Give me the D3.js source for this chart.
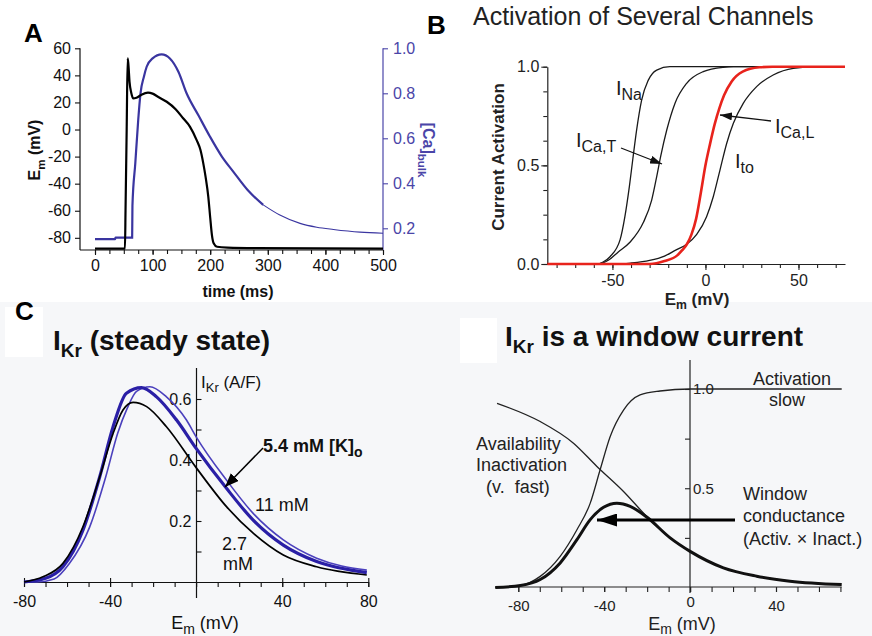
<!DOCTYPE html>
<html><head><meta charset="utf-8">
<script src="https://cdn.jsdelivr.net/npm/d3@7"></script>
<style>
body{margin:0;background:#fff}
svg{display:block}
text{font-family:"Liberation Sans",Arial,Helvetica,sans-serif}
</style>
</head><body>
<svg id="fig" width="872" height="636"></svg>
<script>
// ---------------- Panel A data ----------------
const aEmTime = [0,52,53,55,56.7,58,60,63,66.5,72,80,92,100,110,124.5,140,153,165,176.5,183,188,192,196.7,200,203,206,212,230,280,500];
const aEm     = [-88,-88,-60,0,52.6,48,35,27,23,23.5,25.5,27.2,26.5,24,20.5,15,8.3,2,-7.8,-15,-25,-35,-49.7,-65,-78,-84,-86.6,-87.2,-87.6,-88];
const aCaTime = [0,35,35.5,64.5,65,70,75,79,85,89.7,100,115.7,130,145,159,180,199.7,220,240,265,292,320,356,385,414,460,500];
const aCa     = [0.152,0.152,0.159,0.159,0.3,0.49,0.68,0.8,0.875,0.918,0.955,0.973,0.955,0.895,0.8,0.7,0.607,0.52,0.452,0.37,0.304,0.26,0.222,0.205,0.195,0.183,0.178];
const aEmTicks = [-80,-60,-40,-20,0,20,40,60];
const aCaTicks = [0.2,0.4,0.6,0.8,1.0];
const aTimeTicks = [0,100,200,300,400,500];

// ---------------- Panel B data ----------------
const bNaV  = [-85,-58.5,-55,-51.3,-45.9,-43.3,-40.9,-39.1,-37,-34.3,-30.7,-26.2,-19.1,75];
const bNa   = [0,0,0.01,0.037,0.122,0.24,0.392,0.527,0.679,0.831,0.932,0.983,1,1];
const bCaTV = [-85,-58,-52,-47,-40.6,-33.4,-28.9,-26.2,-24.1,-20.8,-16.4,-10.1,-1.2,9.6,15,75];
const bCaT  = [0,0,0.02,0.06,0.11,0.21,0.324,0.443,0.544,0.679,0.814,0.916,0.975,0.997,1,1];
const bCaLV = [-85,-30,-22,-15,-12.5,-10,-7.5,-5,-2.5,0,2.5,5,7.5,10,14,20,29,36,75];
const bCaL  = [0,0,0.015,0.045,0.07,0.1,0.15,0.23,0.36,0.5,0.61,0.71,0.79,0.855,0.924,0.975,0.997,1,1];
const bItoV = [-85,-48,-40,-30,-22,-16,-10.1,-4.7,0.6,4.2,7.8,11.4,15,20.3,27.5,36.4,47.2,59.8,75];
const bIto  = [0,0,0.005,0.018,0.04,0.07,0.1,0.15,0.24,0.341,0.476,0.611,0.713,0.814,0.899,0.958,0.992,1,1];
const bYTicks = [0,0.5,1.0];
const bXTicks = [-50,0,50];

// ---------------- Panel C data ----------------
const c27V = [-80,-71.2,-61.9,-52.6,-44.8,-38.6,-34,-29.3,-23,-13.8,0,14.1,26.5,40.5,56,79.3];
const c27  = [0,0.017,0.061,0.181,0.345,0.487,0.564,0.589,0.575,0.509,0.375,0.247,0.160,0.0885,0.050,0.023];
const c54V = [-80,-70,-61.9,-52.6,-44.8,-38.6,-32.4,-25.4,-18.4,-9.1,0,14.1,26.5,40.5,56,79.3];
const c54  = [0,0.012,0.05,0.17,0.345,0.509,0.619,0.637,0.607,0.531,0.438,0.307,0.203,0.121,0.067,0.031];
const c11V = [-80,-74,-66,-59,-49.5,-42,-36.5,-32,-27.7,-21.5,-13.8,-4.5,0,14.1,26.5,40.5,56,79.3];
const c11  = [0,0,0.01,0.06,0.18,0.345,0.487,0.57,0.625,0.64,0.607,0.531,0.476,0.334,0.225,0.138,0.078,0.039];
const cXTicks = [-80,-40,40,80];
const cYTicks = [0.2,0.4,0.6];

// ---------------- Panel D data ----------------
const dActV = [-90.7,-79,-69.8,-60.5,-52.7,-46.5,-41.9,-37.2,-31,-23.3,-14,0,70.6];
const dAct  = [0,0.01,0.056,0.157,0.291,0.425,0.593,0.761,0.894,0.97,0.99,1,1];
const dInaV = [-89.9,-69.8,-54.3,-43.4,-31,-20.2,-9.3,0,15.5,31,46.5,70];
const dIna  = [0.928,0.836,0.727,0.61,0.484,0.358,0.25,0.182,0.099,0.057,0.032,0.015];
const dWinV = [-90.7,-79,-69.8,-60.5,-52.7,-46.5,-40.3,-34.1,-27.9,-20.2,-9.3,0,15.5,31,46.5,70.6];
const dWin  = [0,0.01,0.04,0.124,0.241,0.342,0.404,0.425,0.409,0.355,0.25,0.182,0.099,0.057,0.032,0.015];
const dXTicks = [-80,-40,0,40];
const dYTicks = [0.5,1.0];

// ---------------- drawing ----------------
const svg = d3.select("#fig");
const FONT = '"Liberation Sans",Arial,Helvetica,sans-serif';
const zip = (xs, ys) => xs.map((x,i)=>[x, ys[i]]);
const fmtInt = d => String(d);          // plain hyphen minus, as in the figure
const fmt1 = d => d.toFixed(1);

svg.append("rect").attr("width",872).attr("height",636).attr("fill","#fff");
svg.append("rect").attr("x",0).attr("y",302).attr("width",872).attr("height",334).attr("fill","#f6f7f9");
svg.append("rect").attr("x",5).attr("y",307).attr("width",38).attr("height",50).attr("fill","#fff");
svg.append("rect").attr("x",460).attr("y",318).attr("width",37).attr("height",45).attr("fill","#fff");

const defs = svg.append("defs");
function marker(id, w, h, color){
  defs.append("marker").attr("id",id).attr("markerUnits","userSpaceOnUse")
    .attr("viewBox",`0 0 ${w} ${h}`).attr("refX",w).attr("refY",h/2)
    .attr("markerWidth",w).attr("markerHeight",h).attr("orient","auto")
    .append("path").attr("d",`M0,0L${w},${h/2}L0,${h}Z`).attr("fill",color);
}
marker("arrB",12,8,"#111");
marker("arrC",14,11,"#000");
marker("arrD",20,13,"#000");

// rich text with subscripts: parts = [[text, sub?], ...]
function rich(parent, x, y, parts, o){
  const size = o.size;
  const t = parent.append("text").attr("x",x).attr("y",y)
    .attr("font-size",size).attr("font-weight",o.weight||"normal")
    .attr("fill",o.fill||"#111").attr("text-anchor",o.anchor||"start");
  if (o.rotate) t.attr("transform",`rotate(${o.rotate},${x},${y})`);
  let shift = 0;
  const subShift = o.subShift!==undefined ? o.subShift : size*0.3;
  parts.forEach(p=>{
    const s = t.append("tspan").text(p[0]);
    const target = p[1] ? subShift : 0;
    if (target !== shift) { s.attr("dy", target - shift); shift = target; }
    if (p[1]) s.attr("font-size", o.subSize || size*0.72);
  });
  return t;
}
function styleAxis(g, size, color){
  g.attr("font-family",FONT).attr("font-size",size);
  g.selectAll("path.domain").attr("stroke",color||"#111").attr("stroke-width",1.2);
  g.selectAll(".tick line").attr("stroke",color||"#111").attr("stroke-width",1.1);
  g.selectAll(".tick text").attr("fill",color||"#111");
}

// =============== Panel A ===============
const xA = d3.scaleLinear().domain([0,500]).range([95,383]);
const yA = d3.scaleLinear().domain([-89,60]).range([250,48.3]);
const yCa = d3.scaleLinear().domain([0.2,1.0]).range([228.3,48.3]);
const gA = svg.append("g");
const gAxm = gA.append("g").attr("transform","translate(0,250)")
  .call(d3.axisBottom(xA).tickValues(d3.range(0,501,25)).tickSize(4).tickFormat(""));
styleAxis(gAxm,16);
gAxm.select("path.domain").remove();
const gAx = gA.append("g").attr("transform","translate(0,250)")
  .call(d3.axisBottom(xA).tickValues(aTimeTicks).tickSize(5).tickPadding(5).tickFormat(fmtInt).tickSizeOuter(0));
styleAxis(gAx,16);
gAx.select("path.domain").attr("d","M80,0H383");
const gAy = gA.append("g").attr("transform","translate(80,0)")
  .call(d3.axisLeft(yA).tickValues(aEmTicks).tickSize(5).tickPadding(4).tickFormat(fmtInt).tickSizeOuter(0));
styleAxis(gAy,16);
gAy.select("path.domain").attr("d","M0,48.3V250");
const blue = "#3a35a0";
const gAr = gA.append("g").attr("transform","translate(383,0)")
  .call(d3.axisRight(yCa).tickValues(aCaTicks).tickSize(5).tickPadding(5).tickFormat(fmt1).tickSizeOuter(0));
styleAxis(gAr,16,"#4a45a8");
gAr.select("path.domain").attr("d","M0,48.3V250");

const lineA = d3.line().x(d=>xA(d[0])).y(d=>yA(d[1])).curve(d3.curveMonotoneX);
const lineCa = d3.line().x(d=>xA(d[0])).y(d=>yCa(d[1])).curve(d3.curveMonotoneX);
const caPts = zip(aCaTime,aCa);
gA.append("path").attr("d",lineCa(caPts.filter(d=>d[0]<=292))).attr("fill","none").attr("stroke",blue).attr("stroke-width",2.2);
gA.append("path").attr("d",lineCa(caPts.filter(d=>d[0]>=292))).attr("fill","none").attr("stroke",blue).attr("stroke-width",1.1);
gA.append("path").attr("d",lineA(zip(aEmTime,aEm))).attr("fill","none").attr("stroke","#000").attr("stroke-width",2.2);

svg.append("text").attr("x",24).attr("y",42).attr("font-size",26).attr("font-weight","bold").attr("fill","#000").text("A");
svg.append("text").attr("x",238).attr("y",297).attr("font-size",16).attr("font-weight","bold").attr("text-anchor","middle").attr("fill","#111").text("time (ms)");
rich(svg, 40, 150, [["E",0],["m",1],[" (mV)",0]], {size:16, weight:"bold", anchor:"middle", rotate:-90, fill:"#111"});
rich(svg, 423, 150, [["[Ca]",0],["bulk",1]], {size:16, weight:"bold", anchor:"middle", rotate:90, fill:"#4a45a8"});

// =============== Panel B ===============
const xB = d3.scaleLinear().domain([-85,75]).range([547.3,845]);
const yB = d3.scaleLinear().domain([0,1]).range([264,66.7]);
const gB = svg.append("g");
const gBym = gB.append("g").attr("transform","translate(547.3,0)")
  .call(d3.axisLeft(yB).tickValues(d3.range(0,1.01,0.125)).tickSize(4).tickFormat(""));
styleAxis(gBym,16,"#222"); gBym.select("path.domain").remove();
const gBy = gB.append("g").attr("transform","translate(547.3,0)")
  .call(d3.axisLeft(yB).tickValues(bYTicks).tickSize(6).tickPadding(2).tickFormat(fmt1).tickSizeOuter(0));
styleAxis(gBy,16,"#222");
const gBxm = gB.append("g").attr("transform","translate(0,264)")
  .call(d3.axisBottom(xB).tickValues(d3.range(-80,71,10)).tickSize(4).tickFormat(""));
styleAxis(gBxm,16,"#222"); gBxm.select("path.domain").remove();
const gBx = gB.append("g").attr("transform","translate(0,264)")
  .call(d3.axisBottom(xB).tickValues(bXTicks).tickSize(6).tickPadding(5).tickFormat(fmtInt).tickSizeOuter(0));
styleAxis(gBx,16,"#222");

const lineB = d3.line().x(d=>xB(d[0])).y(d=>yB(d[1])).curve(d3.curveMonotoneX);
[[bNaV,bNa],[bCaTV,bCaT],[bItoV,bIto]].forEach(([v,a])=>{
  gB.append("path").attr("d",lineB(zip(v,a))).attr("fill","none").attr("stroke","#1a1a1a").attr("stroke-width",1.3);
});
gB.append("path").attr("d",lineB(zip(bCaLV,bCaL))).attr("fill","none").attr("stroke","#e8231c").attr("stroke-width",2.6);

svg.append("text").attr("x",427).attr("y",34).attr("font-size",26).attr("font-weight","bold").attr("fill","#000").text("B");
svg.append("text").attr("x",473).attr("y",25).attr("font-size",25).attr("fill","#222").text("Activation of Several Channels");
rich(svg, 504, 157, [["Current Activation",0]], {size:17, weight:"bold", anchor:"middle", rotate:-90, fill:"#222"});
rich(svg, 697, 305, [["E",0],["m",1],[" (mV)",0]], {size:17, weight:"bold", anchor:"middle", fill:"#222", subShift:4});
rich(svg, 616, 95, [["I",0],["Na",1]], {size:20, fill:"#1a1a1a", subSize:16, subShift:5});
rich(svg, 576, 147, [["I",0],["Ca,T",1]], {size:20, fill:"#1a1a1a", subSize:16, subShift:5});
rich(svg, 775, 133, [["I",0],["Ca,L",1]], {size:20, fill:"#1a1a1a", subSize:16, subShift:5});
rich(svg, 735, 168, [["I",0],["to",1]], {size:20, fill:"#1a1a1a", subSize:16, subShift:5});
svg.append("line").attr("x1",621).attr("y1",148).attr("x2",662).attr("y2",164).attr("stroke","#111").attr("stroke-width",1.3).attr("marker-end","url(#arrB)");
svg.append("line").attr("x1",771).attr("y1",121).attr("x2",720).attr("y2",115).attr("stroke","#111").attr("stroke-width",1.3).attr("marker-end","url(#arrB)");

// =============== Panel C ===============
const xC = d3.scaleLinear().domain([-80,80]).range([24,368.3]);
const yC = d3.scaleLinear().domain([0,0.7]).range([582,368.5]);
const gC = svg.append("g");
const gCxm = gC.append("g").attr("transform","translate(0,582)")
  .call(d3.axisBottom(xC).tickValues(d3.range(-80,81,10)).tickSize(5).tickFormat(""));
styleAxis(gCxm,16,"#111"); gCxm.select("path.domain").remove();
const gCx = gC.append("g").attr("transform","translate(0,582)")
  .call(d3.axisBottom(xC).tickValues(cXTicks).tickSize(5).tickPadding(9).tickFormat(fmtInt).tickSizeOuter(0));
styleAxis(gCx,16,"#111");
gCx.selectAll(".tick line").attr("y1",-4);
const gCym = gC.append("g").attr("transform","translate(196.5,0)")
  .call(d3.axisRight(yC).tickValues(d3.range(0.1,0.65,0.1)).tickSize(5).tickFormat(""));
styleAxis(gCym,16,"#111"); gCym.select("path.domain").remove();
const gCy = gC.append("g").attr("transform","translate(196.5,0)")
  .call(d3.axisLeft(yC).tickValues(cYTicks).tickSize(0).tickPadding(5).tickFormat(fmt1).tickSizeOuter(0));
styleAxis(gCy,16,"#111");
gCy.select("path.domain").attr("d","M0,368V598");

const lineC = d3.line().x(d=>xC(d[0])).y(d=>yC(d[1])).curve(d3.curveMonotoneX);
gC.append("path").attr("d",lineC(zip(c11V,c11))).attr("fill","none").attr("stroke","#4b40bd").attr("stroke-width",1.6);
gC.append("path").attr("d",lineC(zip(c54V,c54))).attr("fill","none").attr("stroke","#2a1fa6").attr("stroke-width",3.2);
gC.append("path").attr("d",lineC(zip(c27V,c27))).attr("fill","none").attr("stroke","#000").attr("stroke-width",1.7);

svg.append("text").attr("x",15).attr("y",320).attr("font-size",26).attr("font-weight","bold").attr("fill","#000").text("C");
rich(svg, 53, 350, [["I",0],["Kr",1],[" (steady state)",0]], {size:28, weight:"bold", fill:"#111", subSize:19, subShift:7});
rich(svg, 201, 388, [["I",0],["Kr",1],[" (A/F)",0]], {size:17, fill:"#111", subSize:13, subShift:4});
rich(svg, 263, 452, [["5.4 mM [K]",0],["o",1]], {size:18, weight:"bold", fill:"#111", subSize:14, subShift:5});
svg.append("text").attr("x",255).attr("y",511).attr("font-size",18).attr("fill","#111").text("11 mM");
svg.append("text").attr("x",222).attr("y",550).attr("font-size",18).attr("fill","#111").text("2.7");
svg.append("text").attr("x",223).attr("y",570).attr("font-size",18).attr("fill","#111").text("mM");
svg.append("line").attr("x1",263).attr("y1",448).attr("x2",225).attr("y2",487).attr("stroke","#000").attr("stroke-width",1.5).attr("marker-end","url(#arrC)");
rich(svg, 205, 629, [["E",0],["m",1],["  (mV)",0]], {size:18, fill:"#111", anchor:"middle", subSize:14, subShift:5});

// =============== Panel D ===============
const xD = d3.scaleLinear().domain([-80,40]).range([518.3,776]);
const yD = d3.scaleLinear().domain([0,1]).range([587.5,389]);
const gD = svg.append("g");
const gDxm = gD.append("g").attr("transform","translate(0,587)")
  .call(d3.axisBottom(xD).tickValues(d3.range(-80,71,10)).tickSize(5).tickFormat(""));
styleAxis(gDxm,16,"#222"); gDxm.select("path.domain").remove();
const gDx = gD.append("g").attr("transform","translate(0,587)")
  .call(d3.axisBottom(xD).tickValues(dXTicks).tickSize(5).tickPadding(8).tickFormat(fmtInt).tickSizeOuter(0));
styleAxis(gDx,15,"#222");
gDx.select("path.domain").attr("d",`M${xD(-90.7)},0H${xD(70.6)}`);
gDx.selectAll(".tick text").filter(d=>d===0).attr("y",9);
const gDym = gD.append("g").attr("transform","translate(690,0)")
  .call(d3.axisLeft(yD).tickValues([0.25,0.5,0.75,1.0]).tickSize(5).tickFormat(""));
styleAxis(gDym,16,"#222"); gDym.select("path.domain").attr("d","M0,360V593");
const gDy = gD.append("g").attr("transform","translate(690,0)")
  .call(d3.axisRight(yD).tickValues(dYTicks).tickSize(0).tickPadding(3).tickFormat(fmt1).tickSizeOuter(0));
styleAxis(gDy,15,"#222"); gDy.select("path.domain").remove();

const lineD = d3.line().x(d=>xD(d[0])).y(d=>yD(d[1])).curve(d3.curveMonotoneX);
gD.append("path").attr("d",lineD(zip(dActV,dAct))).attr("fill","none").attr("stroke","#222").attr("stroke-width",1.3);
gD.append("path").attr("d",lineD(zip(dInaV,dIna))).attr("fill","none").attr("stroke","#222").attr("stroke-width",1.3);
gD.append("path").attr("d",lineD(zip(dWinV,dWin))).attr("fill","none").attr("stroke","#111").attr("stroke-width",3);

rich(svg, 505, 346, [["I",0],["Kr",1],[" is a window current",0]], {size:28, weight:"bold", fill:"#111", subSize:19, subShift:7});
svg.append("text").attr("x",792).attr("y",385).attr("font-size",18).attr("text-anchor","middle").attr("fill","#222").text("Activation");
svg.append("text").attr("x",787).attr("y",406).attr("font-size",18).attr("text-anchor","middle").attr("fill","#222").text("slow");
svg.append("text").attr("x",476).attr("y",450).attr("font-size",18).attr("fill","#222").text("Availability");
svg.append("text").attr("x",476).attr("y",471).attr("font-size",18).attr("fill","#222").text("Inactivation");
svg.append("text").attr("x",486).attr("y",493).attr("font-size",18).attr("fill","#222").attr("xml:space","preserve").text("(v.  fast)");
svg.append("text").attr("x",743).attr("y",500).attr("font-size",18).attr("fill","#222").text("Window");
svg.append("text").attr("x",743).attr("y",522).attr("font-size",18).attr("fill","#222").text("conductance");
svg.append("text").attr("x",743).attr("y",545).attr("font-size",18).attr("fill","#222").text("(Activ. \u00d7 Inact.)");
svg.append("line").attr("x1",735).attr("y1",520).attr("x2",597).attr("y2",520).attr("stroke","#000").attr("stroke-width",3).attr("marker-end","url(#arrD)");
rich(svg, 682, 630, [["E",0],["m",1],["  (mV)",0]], {size:18, fill:"#222", anchor:"middle", subSize:14, subShift:4});
</script>
</body></html>
